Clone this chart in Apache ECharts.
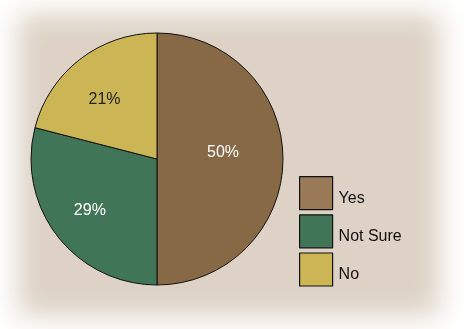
<!DOCTYPE html>
<html>
<head>
<meta charset="utf-8">
<script src="https://cdn.jsdelivr.net/npm/echarts@6/dist/echarts.min.js"></script>
<style>html,body{margin:0;padding:0;background:#fff;}#c{width:464px;height:329px;}</style>
</head>
<body>
<div id="c"></div>
<script>
var categories = ['Yes', 'Not Sure', 'No'];
var values = [50, 29, 21];
var sliceColors = ['#876946', '#417558', '#CBB555'];
var legendColors = ['#9A7A56', '#417558', '#CBB555'];
var labelColors = ['#ffffff', '#ffffff', '#222222'];
var labelOffsets = [[0, -6], [-15, 11], [-12, -7]];

var chart = echarts.init(document.getElementById('c'), null, {renderer: 'canvas'});
var data = categories.map(function (c, i) {
  return {
    name: c,
    value: values[i],
    itemStyle: {color: sliceColors[i]},
    label: {color: labelColors[i], offset: labelOffsets[i]}
  };
});
chart.setOption({
  animation: false,
  backgroundColor: '#ffffff',
  graphic: [{
    type: 'rect',
    silent: true,
    z: -10,
    shape: {x: 18 - 2000, y: 14, width: 422, height: 302},
    style: {
      fill: '#DDD2C5',
      shadowBlur: 26,
      shadowColor: '#DDD2C5',
      shadowOffsetX: 2000
    }
  }],
  legend: {
    orient: 'vertical',
    left: 299,
    top: 176,
    padding: 0,
    itemWidth: 33,
    itemHeight: 33,
    itemGap: 4,
    icon: 'rect',
    selectedMode: false,
    formatter: '{t|{name}}',
    textStyle: {
      fontFamily: 'Liberation Sans', fontSize: 16, color: '#111',
      rich: {t: {fontFamily: 'Liberation Sans', fontSize: 16, color: '#111', padding: [10, 0, 0, 1]}}
    },
    data: categories.map(function (c, i) {
      return {name: c, itemStyle: {color: legendColors[i], borderColor: '#111', borderWidth: 1.2}};
    })
  },
  series: [{
    type: 'pie',
    center: [157, 159],
    radius: 126,
    startAngle: 90,
    clockwise: true,
    avoidLabelOverlap: false,
    itemStyle: {borderColor: '#111', borderWidth: 1},
    label: {
      position: 'inside',
      formatter: '{c}%',
      fontFamily: 'Liberation Sans',
      fontSize: 16
    },
    labelLine: {show: false},
    emphasis: {disabled: true},
    data: data
  }]
});
</script>
</body>
</html>
